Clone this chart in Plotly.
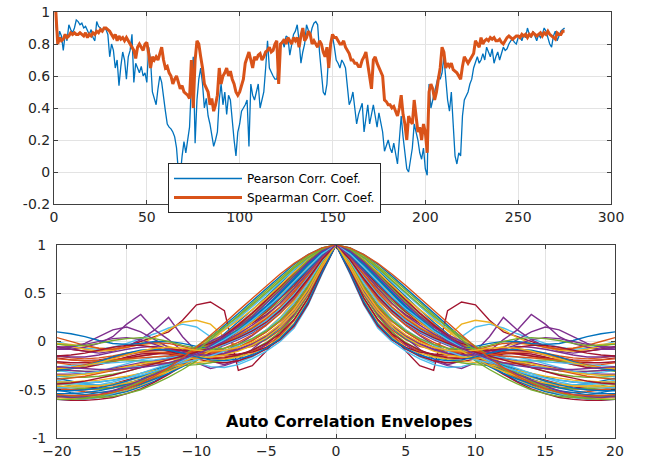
import plotly.graph_objects as go

# ---------------- top panel data ----------------
pearson = [
    0.93, 0.80, 0.88, 0.85, 0.76, 0.86, 0.82, 0.92, 0.89, 0.87,
    0.90, 0.95, 0.94, 0.92, 0.93, 0.90, 0.91, 0.88, 0.86, 0.89,
    0.84, 0.82, 0.94, 0.91, 0.90, 0.88, 0.90, 0.89, 0.86, 0.72,
    0.80, 0.76, 0.65, 0.70, 0.54, 0.66, 0.75, 0.70, 0.58, 0.72,
    0.76, 0.86, 0.56, 0.68, 0.65, 0.62, 0.66, 0.60, 0.62, 0.56,
    0.78, 0.70, 0.50, 0.46, 0.42, 0.52, 0.60, 0.56, 0.45, 0.38,
    0.30, 0.28, 0.27, 0.25, 0.22, 0.15, 0.00, -0.02, 0.10, 0.19,
    0.12, 0.20, 0.28, 0.55, 0.72, 0.18, 0.45, 0.58, 0.65, 0.55,
    0.40, 0.46, 0.35, 0.30, 0.22, 0.16, 0.20, 0.25, 0.45, 0.55,
    0.42, 0.50, 0.36, 0.48, 0.45, 0.30, 0.20, 0.10, 0.25, 0.30,
    0.38, 0.40, 0.42, 0.45, 0.16, 0.55, 0.48, 0.45, 0.50, 0.55,
    0.40, 0.45, 0.50, 0.65, 0.82, 0.65, 0.62, 0.60, 0.58, 0.58,
    0.70, 0.80, 0.82, 0.78, 0.85, 0.84, 0.73, 0.80, 0.86, 0.88,
    0.92, 0.82, 0.68, 0.75, 0.80, 0.92, 0.88, 0.85, 0.90, 0.93,
    0.94, 0.92, 0.75, 0.60, 0.50, 0.48, 0.55, 0.75, 0.80, 0.85,
    0.78, 0.70, 0.68, 0.65, 0.70, 0.68, 0.65, 0.55, 0.42, 0.45,
    0.50, 0.40, 0.30, 0.36, 0.40, 0.43, 0.25, 0.35, 0.42, 0.30,
    0.36, 0.42, 0.35, 0.28, 0.37, 0.32, 0.25, 0.13, 0.17, 0.20,
    0.15, 0.12, 0.18, 0.10, 0.05, 0.20, 0.35, 0.22, 0.10, 0.02,
    0.00, 0.08, 0.15, 0.30, 0.25, 0.20, 0.12, 0.08, 0.15, 0.02,
    -0.02, 0.55, 0.40, 0.45, 0.50, 0.55, 0.60, 0.58, 0.62, 0.72,
    0.60, 0.45, 0.38, 0.50, 0.30, 0.10, 0.05, 0.12, 0.10, 0.35,
    0.45, 0.48, 0.50, 0.55, 0.58, 0.65, 0.68, 0.72, 0.68, 0.70,
    0.74, 0.70, 0.78, 0.75, 0.72, 0.77, 0.68, 0.72, 0.75, 0.70,
    0.74, 0.78, 0.76, 0.77, 0.80, 0.82, 0.83, 0.81, 0.80, 0.84,
    0.85, 0.82, 0.86, 0.84, 0.90, 0.86, 0.84, 0.88, 0.85, 0.82,
    0.86, 0.84, 0.86, 0.90, 0.88, 0.84, 0.80, 0.78, 0.85, 0.88,
    0.82, 0.85, 0.88, 0.89, 0.90,
]

spearman = [
    1.00, 0.80, 0.84, 0.82, 0.83, 0.86, 0.84, 0.85, 0.87, 0.86,
    0.87, 0.86, 0.86, 0.87, 0.86, 0.85, 0.87, 0.84, 0.86, 0.85,
    0.87, 0.86, 0.88, 0.87, 0.89, 0.88, 0.90, 0.90, 0.89, 0.88,
    0.86, 0.84, 0.86, 0.82, 0.85, 0.83, 0.84, 0.82, 0.84, 0.82,
    0.80, 0.78, 0.76, 0.71, 0.78, 0.80, 0.78, 0.76, 0.80, 0.81,
    0.74, 0.65, 0.72, 0.70, 0.72, 0.70, 0.74, 0.78, 0.70, 0.65,
    0.66, 0.62, 0.60, 0.55, 0.58, 0.60, 0.56, 0.52, 0.54, 0.50,
    0.49, 0.48, 0.46, 0.70, 0.40, 0.70, 0.82, 0.80, 0.72, 0.65,
    0.55, 0.52, 0.50, 0.42, 0.46, 0.38, 0.42, 0.48, 0.65, 0.55,
    0.60, 0.62, 0.65, 0.60, 0.63, 0.58, 0.55, 0.50, 0.48, 0.50,
    0.55, 0.58, 0.68, 0.72, 0.75, 0.70, 0.65, 0.72, 0.70, 0.73,
    0.74, 0.70, 0.72, 0.75, 0.76, 0.78, 0.75, 0.76, 0.80, 0.82,
    0.55, 0.80, 0.81, 0.83, 0.80, 0.84, 0.82, 0.80, 0.84, 0.82,
    0.84, 0.78, 0.85, 0.90, 0.82, 0.84, 0.88, 0.86, 0.80, 0.82,
    0.80, 0.78, 0.82, 0.80, 0.75, 0.72, 0.78, 0.65, 0.80, 0.86,
    0.84, 0.84, 0.82, 0.80, 0.80, 0.82, 0.78, 0.76, 0.74, 0.70,
    0.70, 0.68, 0.68, 0.66, 0.66, 0.70, 0.72, 0.75, 0.68, 0.60,
    0.52, 0.70, 0.72, 0.68, 0.65, 0.62, 0.60, 0.45, 0.44, 0.42,
    0.42, 0.40, 0.41, 0.38, 0.35, 0.40, 0.48, 0.36, 0.30, 0.20,
    0.35, 0.32, 0.30, 0.45, 0.35, 0.25, 0.28, 0.20, 0.30, 0.25,
    0.12, 0.50, 0.55, 0.52, 0.45, 0.50, 0.58, 0.65, 0.78, 0.75,
    0.65, 0.68, 0.66, 0.68, 0.64, 0.63, 0.62, 0.60, 0.58, 0.66,
    0.72, 0.70, 0.68, 0.70, 0.72, 0.74, 0.82, 0.80, 0.78, 0.84,
    0.80, 0.82, 0.83, 0.82, 0.84, 0.83, 0.84, 0.82, 0.82, 0.83,
    0.81, 0.80, 0.82, 0.84, 0.85, 0.84, 0.83, 0.84, 0.85, 0.85,
    0.84, 0.86, 0.85, 0.86, 0.84, 0.86, 0.85, 0.87, 0.86, 0.85,
    0.86, 0.87, 0.85, 0.87, 0.86, 0.88, 0.86, 0.85, 0.84, 0.83,
    0.87, 0.86, 0.86, 0.88, 0.88,
]

sample_index = list(range(1, len(pearson) + 1))
series_names = ["Pearson Corr. Coef.", "Spearman Corr. Coef."]

# ---------------- bottom panel data ----------------
# autocorrelation values for lags 1..20 (lag 0 == 1, symmetric in lag)
lags_pos = list(range(1, 21))
acf_halves = [
    [0.97, 0.90, 0.80, 0.68, 0.55, 0.42, 0.29, 0.16, 0.04, -0.08, -0.19, -0.29, -0.38, -0.45, -0.51, -0.55, -0.58, -0.59, -0.58, -0.56],
    [0.78, 0.50, 0.28, 0.12, 0.02, -0.05, -0.08, -0.10, -0.12, -0.13, -0.12, -0.10, -0.09, -0.10, -0.12, -0.15, -0.17, -0.18, -0.17, -0.15],
    [0.96, 0.88, 0.77, 0.64, 0.50, 0.37, 0.24, 0.11, 0.00, -0.12, -0.22, -0.31, -0.39, -0.46, -0.51, -0.55, -0.57, -0.58, -0.57, -0.55],
    [0.82, 0.58, 0.36, 0.18, 0.04, -0.08, -0.18, -0.24, -0.20, -0.10, 0.05, 0.25, 0.12, 0.02, -0.05, -0.10, -0.12, -0.10, -0.08, -0.06],
    [0.88, 0.72, 0.56, 0.42, 0.30, 0.20, 0.12, 0.05, -0.01, -0.07, -0.12, -0.17, -0.22, -0.27, -0.31, -0.34, -0.36, -0.37, -0.37, -0.36],
    [0.74, 0.44, 0.22, 0.05, -0.07, -0.16, -0.22, -0.10, 0.05, 0.15, 0.18, 0.14, 0.08, 0.03, -0.02, -0.06, -0.08, -0.07, -0.04, 0.00],
    [0.80, 0.52, 0.28, 0.08, -0.10, -0.25, -0.30, 0.32, 0.41, 0.38, 0.22, 0.10, 0.05, 0.00, -0.05, -0.08, -0.10, -0.10, -0.08, -0.05],
    [0.95, 0.86, 0.74, 0.60, 0.46, 0.33, 0.20, 0.08, -0.04, -0.14, -0.24, -0.33, -0.41, -0.47, -0.52, -0.55, -0.56, -0.55, -0.53, -0.50],
    [0.75, 0.45, 0.22, 0.06, -0.04, -0.10, -0.14, -0.16, -0.17, -0.16, -0.14, -0.12, -0.13, -0.15, -0.18, -0.21, -0.24, -0.25, -0.24, -0.22],
    [0.84, 0.62, 0.42, 0.25, 0.12, 0.02, -0.06, 0.05, 0.18, 0.22, 0.20, 0.12, 0.04, -0.02, -0.06, -0.08, -0.07, -0.05, -0.03, -0.02],
    [0.78, 0.50, 0.27, 0.10, -0.03, -0.13, -0.20, -0.25, -0.28, -0.22, -0.10, 0.02, 0.12, 0.28, 0.18, 0.05, -0.02, -0.06, -0.08, -0.08],
    [0.86, 0.68, 0.50, 0.35, 0.23, 0.14, 0.07, 0.02, -0.03, -0.08, -0.13, -0.18, -0.22, -0.25, -0.28, -0.30, -0.31, -0.31, -0.30, -0.28],
    [0.96, 0.87, 0.75, 0.62, 0.49, 0.36, 0.24, 0.13, 0.02, -0.09, -0.19, -0.28, -0.36, -0.43, -0.49, -0.54, -0.57, -0.60, -0.61, -0.60],
    [0.72, 0.40, 0.17, 0.02, -0.08, -0.15, -0.20, -0.22, -0.21, -0.18, -0.15, -0.13, -0.12, -0.13, -0.16, -0.20, -0.24, -0.27, -0.28, -0.27],
    [0.85, 0.66, 0.48, 0.33, 0.22, 0.13, 0.05, -0.02, -0.08, -0.14, -0.19, -0.24, -0.29, -0.33, -0.37, -0.40, -0.42, -0.43, -0.43, -0.42],
    [0.94, 0.84, 0.71, 0.57, 0.43, 0.30, 0.18, 0.07, -0.03, -0.12, -0.21, -0.30, -0.38, -0.44, -0.49, -0.52, -0.53, -0.52, -0.50, -0.47],
    [0.80, 0.55, 0.34, 0.18, 0.06, -0.03, -0.09, -0.13, -0.15, -0.14, -0.10, -0.05, -0.02, -0.03, -0.06, -0.09, -0.10, -0.08, -0.05, -0.02],
    [0.86, 0.66, 0.46, 0.30, 0.17, 0.06, -0.03, -0.10, -0.14, -0.15, -0.12, -0.06, 0.02, 0.10, 0.15, 0.12, 0.05, -0.02, -0.06, -0.08],
    [0.93, 0.82, 0.68, 0.54, 0.40, 0.27, 0.16, 0.06, -0.04, -0.13, -0.22, -0.30, -0.36, -0.41, -0.45, -0.48, -0.49, -0.48, -0.46, -0.43],
    [0.70, 0.38, 0.14, 0.00, -0.10, -0.18, -0.24, -0.27, -0.26, -0.22, -0.18, -0.15, -0.16, -0.19, -0.23, -0.27, -0.31, -0.33, -0.32, -0.30],
    [0.87, 0.70, 0.53, 0.39, 0.28, 0.19, 0.11, 0.04, -0.02, -0.06, -0.09, -0.11, -0.13, -0.15, -0.17, -0.19, -0.21, -0.22, -0.22, -0.21],
    [0.92, 0.80, 0.65, 0.50, 0.36, 0.24, 0.13, 0.03, -0.06, -0.15, -0.23, -0.30, -0.36, -0.40, -0.43, -0.45, -0.45, -0.44, -0.41, -0.38],
    [0.82, 0.58, 0.38, 0.22, 0.10, 0.01, -0.06, -0.10, -0.11, -0.09, -0.05, -0.02, -0.01, -0.03, -0.06, -0.08, -0.07, -0.04, 0.00, 0.04],
    [0.95, 0.85, 0.72, 0.58, 0.45, 0.33, 0.22, 0.12, 0.03, -0.06, -0.15, -0.24, -0.32, -0.40, -0.47, -0.52, -0.56, -0.58, -0.59, -0.58],
    [0.84, 0.64, 0.45, 0.30, 0.18, 0.09, 0.02, -0.04, -0.09, -0.13, -0.16, -0.18, -0.20, -0.22, -0.25, -0.28, -0.31, -0.33, -0.34, -0.34],
    [0.76, 0.48, 0.26, 0.10, -0.01, -0.09, -0.15, -0.19, -0.22, -0.24, -0.25, -0.24, -0.22, -0.20, -0.19, -0.20, -0.22, -0.25, -0.28, -0.31],
    [0.91, 0.78, 0.63, 0.48, 0.34, 0.22, 0.12, 0.03, -0.05, -0.12, -0.19, -0.26, -0.32, -0.37, -0.41, -0.44, -0.45, -0.45, -0.43, -0.40],
    [0.89, 0.74, 0.58, 0.44, 0.31, 0.20, 0.10, 0.01, -0.07, -0.14, -0.20, -0.26, -0.31, -0.36, -0.40, -0.44, -0.47, -0.49, -0.50, -0.50],
    [0.79, 0.52, 0.30, 0.14, 0.03, -0.04, -0.08, -0.09, -0.08, -0.05, -0.02, 0.00, 0.00, -0.02, -0.03, -0.02, 0.01, 0.05, 0.08, 0.10],
    [0.90, 0.76, 0.60, 0.45, 0.32, 0.21, 0.11, 0.02, -0.06, -0.14, -0.22, -0.29, -0.35, -0.40, -0.44, -0.47, -0.49, -0.50, -0.50, -0.49],
    [0.73, 0.42, 0.19, 0.04, -0.06, -0.12, -0.16, -0.18, -0.20, -0.22, -0.24, -0.27, -0.30, -0.33, -0.36, -0.38, -0.40, -0.41, -0.42, -0.42],
    [0.90, 0.75, 0.60, 0.46, 0.34, 0.24, 0.15, 0.07, 0.00, -0.06, -0.12, -0.17, -0.21, -0.25, -0.28, -0.30, -0.31, -0.31, -0.30, -0.29],
    [0.97, 0.89, 0.78, 0.66, 0.53, 0.40, 0.27, 0.14, 0.02, -0.10, -0.20, -0.29, -0.36, -0.42, -0.46, -0.48, -0.49, -0.49, -0.48, -0.46],
    [0.83, 0.62, 0.44, 0.30, 0.19, 0.10, 0.03, -0.03, -0.08, -0.13, -0.18, -0.23, -0.28, -0.33, -0.38, -0.42, -0.45, -0.47, -0.48, -0.48],
    [0.94, 0.83, 0.70, 0.56, 0.42, 0.29, 0.17, 0.06, -0.05, -0.15, -0.25, -0.34, -0.42, -0.49, -0.54, -0.58, -0.60, -0.61, -0.61, -0.60],
    [0.92, 0.79, 0.64, 0.49, 0.35, 0.23, 0.12, 0.03, -0.05, -0.13, -0.20, -0.27, -0.33, -0.39, -0.44, -0.48, -0.51, -0.53, -0.54, -0.54],
    [0.81, 0.56, 0.36, 0.21, 0.10, 0.01, -0.06, -0.12, -0.16, -0.19, -0.21, -0.22, -0.23, -0.25, -0.27, -0.30, -0.33, -0.36, -0.38, -0.39],
    [0.88, 0.71, 0.54, 0.39, 0.26, 0.15, 0.06, -0.02, -0.09, -0.15, -0.21, -0.27, -0.32, -0.37, -0.41, -0.44, -0.46, -0.47, -0.47, -0.46],
    [0.77, 0.49, 0.29, 0.15, 0.05, -0.03, -0.09, -0.13, -0.14, -0.13, -0.10, -0.07, -0.05, -0.06, -0.08, -0.11, -0.14, -0.16, -0.16, -0.15],
    [0.95, 0.84, 0.70, 0.55, 0.40, 0.26, 0.13, 0.01, -0.10, -0.20, -0.29, -0.37, -0.44, -0.50, -0.54, -0.57, -0.58, -0.58, -0.57, -0.55],
    [0.86, 0.67, 0.49, 0.34, 0.22, 0.12, 0.04, -0.03, -0.08, -0.12, -0.15, -0.17, -0.19, -0.20, -0.21, -0.22, -0.23, -0.24, -0.25, -0.26],
    [0.71, 0.39, 0.16, 0.02, -0.06, -0.11, -0.13, -0.14, -0.13, -0.11, -0.09, -0.08, -0.09, -0.11, -0.14, -0.17, -0.19, -0.20, -0.19, -0.17],
    [0.93, 0.81, 0.66, 0.51, 0.37, 0.24, 0.12, 0.01, -0.09, -0.18, -0.26, -0.33, -0.39, -0.44, -0.48, -0.51, -0.53, -0.55, -0.56, -0.57],
    [0.84, 0.63, 0.44, 0.29, 0.17, 0.07, -0.01, -0.07, -0.11, -0.13, -0.13, -0.12, -0.11, -0.11, -0.13, -0.16, -0.20, -0.24, -0.27, -0.29],
    [0.90, 0.77, 0.62, 0.47, 0.33, 0.20, 0.09, -0.01, -0.10, -0.18, -0.25, -0.31, -0.36, -0.40, -0.43, -0.45, -0.46, -0.46, -0.45, -0.44],
    [0.79, 0.53, 0.32, 0.17, 0.06, -0.02, -0.08, -0.12, -0.14, -0.14, -0.12, -0.08, -0.03, 0.02, 0.04, 0.03, 0.00, -0.03, -0.05, -0.06],
    [0.96, 0.87, 0.76, 0.63, 0.50, 0.38, 0.26, 0.15, 0.05, -0.05, -0.15, -0.24, -0.33, -0.41, -0.48, -0.53, -0.57, -0.59, -0.60, -0.60],
    [0.83, 0.60, 0.40, 0.24, 0.12, 0.03, -0.04, -0.10, -0.15, -0.19, -0.22, -0.24, -0.25, -0.26, -0.27, -0.29, -0.31, -0.33, -0.35, -0.36],
    [0.74, 0.45, 0.23, 0.08, -0.02, -0.09, -0.14, -0.17, -0.18, -0.17, -0.14, -0.10, -0.06, -0.04, -0.04, -0.06, -0.09, -0.12, -0.14, -0.15],
    [0.89, 0.75, 0.60, 0.46, 0.33, 0.22, 0.12, 0.03, -0.05, -0.12, -0.19, -0.25, -0.31, -0.36, -0.41, -0.45, -0.48, -0.50, -0.51, -0.51],
    [0.87, 0.69, 0.51, 0.36, 0.24, 0.14, 0.06, -0.01, -0.06, -0.10, -0.13, -0.15, -0.16, -0.17, -0.18, -0.19, -0.20, -0.20, -0.19, -0.18],
    [0.77, 0.50, 0.30, 0.15, 0.04, -0.04, -0.10, -0.14, -0.16, -0.17, -0.18, -0.19, -0.21, -0.23, -0.26, -0.29, -0.32, -0.34, -0.35, -0.35],
    [0.94, 0.82, 0.68, 0.53, 0.39, 0.26, 0.15, 0.05, -0.04, -0.12, -0.20, -0.27, -0.34, -0.40, -0.46, -0.51, -0.55, -0.57, -0.58, -0.57],
    [0.81, 0.57, 0.37, 0.22, 0.11, 0.03, -0.03, -0.07, -0.08, -0.07, -0.04, 0.00, 0.03, 0.04, 0.03, 0.01, -0.02, -0.04, -0.04, -0.03],
    [0.91, 0.77, 0.62, 0.47, 0.34, 0.22, 0.11, 0.02, -0.06, -0.13, -0.20, -0.26, -0.31, -0.35, -0.38, -0.40, -0.42, -0.43, -0.44, -0.44],
    [0.85, 0.65, 0.47, 0.32, 0.20, 0.11, 0.04, -0.02, -0.07, -0.11, -0.15, -0.19, -0.23, -0.27, -0.31, -0.35, -0.38, -0.41, -0.43, -0.44],
    [0.72, 0.41, 0.18, 0.03, -0.07, -0.14, -0.18, -0.20, -0.19, -0.16, -0.12, -0.09, -0.08, -0.09, -0.12, -0.16, -0.21, -0.25, -0.28, -0.30],
    [0.97, 0.90, 0.81, 0.70, 0.58, 0.45, 0.32, 0.19, 0.06, -0.06, -0.17, -0.27, -0.36, -0.43, -0.49, -0.53, -0.55, -0.56, -0.56, -0.55],
    [0.80, 0.54, 0.33, 0.18, 0.07, -0.01, -0.06, -0.09, -0.10, -0.09, -0.07, -0.06, -0.07, -0.10, -0.14, -0.18, -0.22, -0.25, -0.27, -0.28],
    [0.88, 0.72, 0.55, 0.40, 0.27, 0.17, 0.08, 0.00, -0.07, -0.13, -0.18, -0.22, -0.25, -0.27, -0.28, -0.29, -0.29, -0.28, -0.27, -0.26],
]

top_xticks = [0, 50, 100, 150, 200, 250, 300]
top_yticks = [-0.2, 0, 0.2, 0.4, 0.6, 0.8, 1]
top_yticklabels = ["-0.2", "0", "0.2", "0.4", "0.6", "0.8", "1"]
bot_xticks = [-20, -15, -10, -5, 0, 5, 10, 15, 20]
bot_yticks = [-1, -0.5, 0, 0.5, 1]
bot_yticklabels = ["-1", "-0.5", "0", "0.5", "1"]
panel_title = "Auto Correlation Envelopes"

matlab_colors = ["#0072BD", "#D95319", "#EDB120", "#7E2F8E", "#77AC30", "#4DBEEE", "#A2142F"]

W, H = 648, 458
FONT = "DejaVu Sans"
TXT = "#262626"


def fx(px):
    return px / W


def fy(py):
    return 1 - py / H


fig = go.Figure()

fig.add_trace(go.Scatter(x=sample_index, y=pearson, mode="lines", name=series_names[0],
                         line=dict(color="#0072BD", width=1.3), xaxis="x", yaxis="y"))
fig.add_trace(go.Scatter(x=sample_index, y=spearman, mode="lines", name=series_names[1],
                         line=dict(color="#D95319", width=3), xaxis="x", yaxis="y"))

full_lags = [-k for k in reversed(lags_pos)] + [0] + lags_pos
for i, half in enumerate(acf_halves):
    full_vals = list(reversed(half)) + [1.0] + half
    fig.add_trace(go.Scatter(x=full_lags, y=full_vals, mode="lines", showlegend=False,
                             hoverinfo="skip",
                             line=dict(color=matlab_colors[i % len(matlab_colors)], width=1.4),
                             xaxis="x2", yaxis="y2"))

axis_common = dict(showline=True, linecolor="#404040", linewidth=1, mirror="ticks",
                   ticks="inside", ticklen=4, tickcolor="#404040", automargin=False,
                   ticklabeloverflow="allow",
                   showgrid=True, gridcolor="#e3e3e3", gridwidth=1, zeroline=False,
                   tickfont=dict(family=FONT, size=14, color=TXT))

fig.update_layout(
    width=W, height=H,
    margin=dict(l=0, r=0, t=0, b=0),
    paper_bgcolor="white", plot_bgcolor="white",
    showlegend=True,
    xaxis=dict(domain=[fx(54), fx(611)], range=[0, 300], tickvals=top_xticks,
               anchor="y", **axis_common),
    yaxis=dict(domain=[fy(204), fy(12)], range=[-0.2, 1], tickvals=top_yticks,
               ticktext=top_yticklabels, anchor="x", **axis_common),
    xaxis2=dict(domain=[fx(57), fx(615)], range=[-20, 20], tickvals=bot_xticks,
                anchor="y2", **axis_common),
    yaxis2=dict(domain=[fy(438), fy(245)], range=[-1, 1], tickvals=bot_yticks,
                ticktext=bot_yticklabels, anchor="x2", ticklabelstandoff=7, **axis_common),
    legend=dict(x=fx(168), y=fy(163), xanchor="left", yanchor="top",
                bgcolor="white", bordercolor="#262626", borderwidth=1,
                font=dict(family=FONT, size=12, color="#000000"),
                tracegroupgap=0, itemwidth=68),
    annotations=[dict(x=1.0, y=-0.83, xref="x2", yref="y2", text="<b>" + panel_title + "</b>",
                      showarrow=False, font=dict(family=FONT, size=16, color="#000000"))],
)

# remove the browser's default 8px page margin so the figure sits at the window origin
fig.write_html("out.html", config={"displayModeBar": False},
               post_script="document.body.style.margin='0px';")
